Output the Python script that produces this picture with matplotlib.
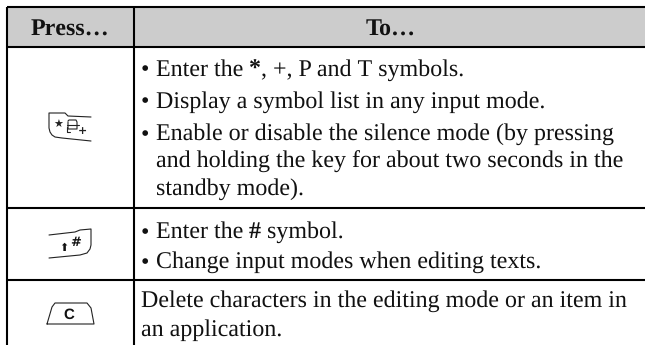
import matplotlib
matplotlib.use("Agg")
import matplotlib.pyplot as plt
from matplotlib.patches import Rectangle

headers = ["Press…", "To…"]
# each line is a list of (text, bold) runs
bullets_row1 = [[("Enter the ", False), ("*", True), (", +, P and T symbols.", False)],
                [("Display a symbol list in any input mode.", False)],
                [("Enable or disable the silence mode (by pressing", False)]]
cont_row1 = ["and holding the key for about two seconds in the",
             "standby mode)."]
bullets_row2 = [[("Enter the ", False), ("#", True), (" symbol.", False)],
                [("Change input modes when editing texts.", False)]]
plain_row3 = ["Delete characters in the editing mode or an item in",
              "an application."]

plt.rcParams["font.family"] = "Liberation Serif"
plt.rcParams["text.hinting"] = "no_hinting"
plt.rcParams["text.hinting_factor"] = 1

fig = plt.figure(figsize=(6.45, 3.45), dpi=100)
ax = fig.add_axes([0, 0, 1, 1])
ax.set_xlim(0, 645)
ax.set_ylim(345, 0)
ax.axis("off")

FS = 17.1
HFS = 17.3
LW = 1.5
INK = "#111111"
L, D, R, T, H, B = 6.5, 133.5, 645, 6.5, 46.5, 345

ax.add_patch(Rectangle((L, T), R - L, H - T, fc="#cccccc", ec="none", zorder=0))
for y in [T, H, 207.5, 280]:
    ax.plot([L, R], [y, y], color="black", lw=LW, solid_capstyle="butt", zorder=3)
for x in [L, D]:
    ax.plot([x, x], [T, B], color="black", lw=LW, solid_capstyle="butt", zorder=3)

ax.text(70, 36, headers[0], fontsize=HFS, fontweight="bold", ha="center", va="baseline", color=INK)
ax.text(390.5, 36, headers[1], fontsize=HFS, fontweight="bold", ha="center", va="baseline", color=INK)

renderer = fig.canvas.get_renderer()


def write(x, y, s, bold=False):
    t = ax.text(x, y, s, fontsize=FS, ha="left", va="baseline", color=INK,
                fontweight="bold" if bold else "normal")
    w, _, _ = renderer.get_text_width_height_descent(
        s, t.get_fontproperties(), False)
    return x + w


def bullet(y, runs):
    ax.text(145, y + 1, "•", fontsize=FS, ha="center", va="baseline", color=INK)
    x = 155.5
    for s, bold in runs:
        x = write(x, y, s, bold)


for y, runs in zip([75.5, 107.5, 140], bullets_row1):
    bullet(y, runs)
for y, s in zip([167.5, 195], cont_row1):
    write(155.5, y, s)
for y, runs in zip([238, 268], bullets_row2):
    bullet(y, runs)
for y, s in zip([307, 336], plain_row3):
    write(141, y, s)

icon = dict(color="#222222", lw=0.8, solid_capstyle="round")
# key 1
ax.plot([91, 68, 65, 49, 49, 50, 52, 55, 62, 91], [117, 116, 113, 113, 128, 132, 135, 137, 138, 141], **icon)
ax.text(58.5, 125, "★", family="DejaVu Sans", fontsize=8, ha="center", va="center", color="#222222")
ax.plot([68, 69, 76, 77, 77, 68, 68], [121, 120, 120, 122, 129, 129, 122], **icon)
ax.plot([67, 79], [125, 125], **icon)
ax.plot([67, 67, 70], [127, 132, 132], **icon)
ax.text(82, 131, "+", family="DejaVu Sans", fontsize=8, fontweight="bold", ha="center", va="center", color="#222222")
# key 2
ax.plot([49, 75, 80, 91, 91, 90, 87, 80, 49], [235, 232, 230, 229, 245, 249, 253, 255, 258], **icon)
ax.text(63.5, 247.5, "⬆", family="DejaVu Sans", fontsize=8, ha="center", va="center", color="#111111")
ax.text(75.5, 242, "#", family="DejaVu Sans", fontsize=9, fontweight="bold", ha="center", va="center", color="#111111")
# key 3
ax.plot([47, 52, 55, 87, 91, 94, 47], [324, 307, 303, 303, 308, 324, 324], **icon)
ax.text(68.5, 315, "C", family="Liberation Sans", fontsize=11, fontweight="bold", ha="center", va="center", color="#111111")

fig.savefig("out.png", dpi=100, facecolor="white")
